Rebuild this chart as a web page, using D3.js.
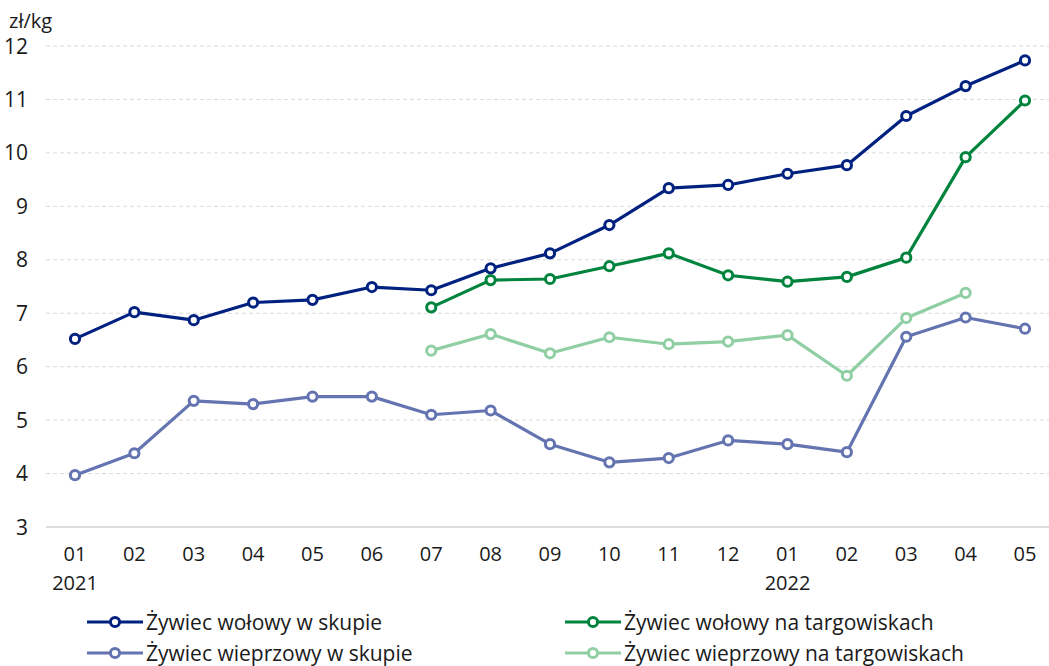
<!DOCTYPE html>
<html><head><meta charset="utf-8">
<script src="https://cdn.jsdelivr.net/npm/d3@7"></script>
<style>
body{margin:0;background:#fff;}
text{font-family:"Open Sans","Noto Sans",sans-serif;fill:#1a1a1a;}
</style></head>
<body><svg id="c" width="1049" height="666"></svg>
<script>
const months = ["01","02","03","04","05","06","07","08","09","10","11","12","01","02","03","04","05"];
const years = {0:"2021", 12:"2022"};
const yTicks = [3,4,5,6,7,8,9,10,11,12];
const wolowySkup = [6.52,7.02,6.87,7.20,7.25,7.49,7.43,7.84,8.12,8.65,9.34,9.40,9.61,9.77,10.69,11.25,11.73];
const wolowyTarg = [null,null,null,null,null,null,7.11,7.62,7.64,7.88,8.12,7.71,7.59,7.68,8.04,9.92,10.98];
const wieprzSkup = [3.97,4.38,5.36,5.30,5.44,5.44,5.10,5.18,4.55,4.21,4.29,4.62,4.55,4.40,6.56,6.92,6.71];
const wieprzTarg = [null,null,null,null,null,null,6.30,6.61,6.25,6.55,6.42,6.47,6.59,5.83,6.91,7.38,null];
const seriesNames = ["Żywiec wołowy w skupie","Żywiec wieprzowy w skupie","Żywiec wołowy na targowiskach","Żywiec wieprzowy na targowiskach"];
const seriesColors = ["#002180","#6474b0","#00843d","#8fcfa3"];
const seriesData = [wolowySkup, wieprzSkup, wolowyTarg, wieprzTarg];

const svg = d3.select("#c");
const idx = d3.range(months.length);
const x = d3.scalePoint().domain(idx).range([75,1025]);
const y = d3.scaleLinear().domain([3,12]).range([527,46]);
const gridLeft = 46, gridRight = 1049;

// grid
svg.append("g").selectAll("line").data(yTicks).join("line")
  .attr("x1",gridLeft).attr("x2",gridRight)
  .attr("y1",d=>y(d)).attr("y2",d=>y(d))
  .attr("stroke",d=>d===3?"#d0d0d0":"#d9d9d9")
  .attr("stroke-width",d=>d===3?1.5:1)
  .attr("stroke-dasharray",d=>d===3?null:"4,3");

// y labels
svg.append("g").selectAll("text").data(yTicks).join("text")
  .attr("x",28).attr("y",d=>y(d)+7.5)
  .attr("text-anchor","end").attr("font-size",21).text(d=>d);
svg.append("text").attr("x",9).attr("y",28).attr("font-size",20).text("zł/kg");

// x labels
svg.append("g").selectAll("text").data(idx).join("text")
  .attr("x",d=>x(d)).attr("y",561).attr("text-anchor","middle")
  .attr("font-size",20).text(d=>months[d]);
svg.append("g").selectAll("text").data(Object.keys(years)).join("text")
  .attr("x",d=>x(+d)).attr("y",590).attr("text-anchor","middle")
  .attr("font-size",20).text(d=>years[d]);

// lines
const line = d3.line().defined(d=>d.v!=null).x(d=>x(d.i)).y(d=>y(d.v));
seriesData.forEach((arr,k)=>{
  const pts = arr.map((v,i)=>({i,v}));
  svg.append("path").datum(pts).attr("d",line)
    .attr("fill","none").attr("stroke",seriesColors[k]).attr("stroke-width",3.2)
    .attr("stroke-linejoin","round");
  svg.append("g").selectAll("circle").data(pts.filter(d=>d.v!=null)).join("circle")
    .attr("cx",d=>x(d.i)).attr("cy",d=>y(d.v)).attr("r",4.6)
    .attr("fill","#fff").attr("stroke",seriesColors[k]).attr("stroke-width",3);
});

// legend
const legPos = [[87,622],[87,653],[565,622],[565,653]];
seriesNames.forEach((n,k)=>{
  const [lx,ly] = legPos[k];
  const g = svg.append("g");
  g.append("line").attr("x1",lx).attr("x2",lx+56).attr("y1",ly).attr("y2",ly)
    .attr("stroke",seriesColors[k]).attr("stroke-width",3.2);
  g.append("circle").attr("cx",lx+28).attr("cy",ly).attr("r",4.6)
    .attr("fill","#fff").attr("stroke",seriesColors[k]).attr("stroke-width",3);
  g.append("text").attr("x",lx+59).attr("y",ly+7.5).attr("font-size",21).text(n);
});
</script></body></html>
